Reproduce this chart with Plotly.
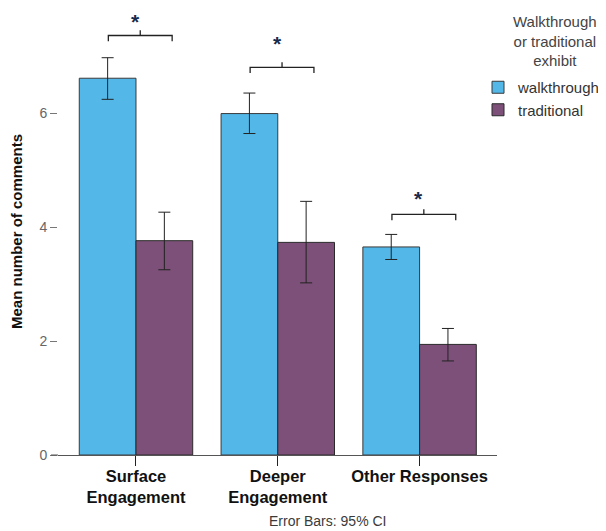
import plotly.graph_objects as go

categories = ["Surface<br>Engagement", "Deeper<br>Engagement", "Other Responses"]
walk_mean = [6.61, 5.99, 3.65]
walk_hi = [6.97, 6.35, 3.87]
walk_lo = [6.24, 5.64, 3.43]
trad_mean = [3.76, 3.73, 1.94]
trad_hi = [4.26, 4.45, 2.22]
trad_lo = [3.25, 3.02, 1.65]
bracket_y = [7.36, 6.80, 4.22]
star_y = [7.72, 7.33, 4.61]

WALK_C = "#53B8E8"
TRAD_C = "#7C5078"
FONT = "Arial, Liberation Sans, sans-serif"

# page has an 8px body margin; figure sized to fit the 606x531 window
W, H = 598, 523
ML, MR, MT, MB = 50, 109, 0, 76
PW, PH = W - ML - MR, H - MT - MB

xs = list(range(len(categories)))

fig = go.Figure()
fig.add_trace(go.Bar(
    x=xs, y=walk_mean, name="walkthrough",
    marker=dict(color=WALK_C, line=dict(color="#3a3a3a", width=1)),
    error_y=dict(type="data", symmetric=False,
                 array=[h - m for h, m in zip(walk_hi, walk_mean)],
                 arrayminus=[m - l for m, l in zip(walk_mean, walk_lo)],
                 color="#222222", thickness=1, width=6),
))
fig.add_trace(go.Bar(
    x=xs, y=trad_mean, name="traditional",
    marker=dict(color=TRAD_C, line=dict(color="#2a2a2a", width=1)),
    error_y=dict(type="data", symmetric=False,
                 array=[h - m for h, m in zip(trad_hi, trad_mean)],
                 arrayminus=[m - l for m, l in zip(trad_mean, trad_lo)],
                 color="#222222", thickness=1, width=6),
))

# significance brackets
for i, (by, sy) in enumerate(zip(bracket_y, star_y)):
    x0, x1, xm = i - 0.195, i + 0.255, i + 0.03
    path = (f"M {x0},{by-0.1} L {x0},{by} L {x1},{by} L {x1},{by-0.1} "
            f"M {xm},{by} L {xm},{by+0.09}")
    fig.add_shape(type="path", path=path, xref="x", yref="y",
                  line=dict(color="#222222", width=1.3))
    fig.add_annotation(x=i - 0.005, y=sy, xref="x", yref="y", text="<b>*</b>",
                       yanchor="top", yshift=7,
                       showarrow=False, font=dict(size=21, color="#1a2a4a", family=FONT))

# baseline extension to the left of the y axis
fig.add_shape(type="line", xref="paper", yref="paper", x0=-7 / PW, x1=0, y0=0, y1=0,
              line=dict(color="#555555", width=1))

fig.add_annotation(x=(319 - ML) / PW, xref="paper", y=-(513 - PH) / PH, yref="paper",
                   yanchor="middle", text="Error Bars: 95% CI", showarrow=False,
                   font=dict(size=14, color="#3a3a3a", family=FONT))

# legend title (centered, multi-line)
fig.add_annotation(x=(547 - ML) / PW, xref="paper", y=1 - 3 / PH, yref="paper",
                   text="Walkthrough<br>or traditional<br>exhibit", showarrow=False,
                   align="center", xanchor="center", yanchor="top",
                   font=dict(size=15, color="#444444", family=FONT))

fig.update_layout(
    width=W, height=H,
    margin=dict(l=ML, r=MR, t=MT, b=MB, autoexpand=False),
    paper_bgcolor="white", plot_bgcolor="white",
    barmode="group", bargap=0.2, bargroupgap=0,
    font=dict(family=FONT, color="#333333"),
    showlegend=True,
    legend=dict(
        x=(470 - ML) / PW, xanchor="left",
        y=1 - 63 / PH, yanchor="top",
        font=dict(size=15, color="#333333"),
        itemwidth=30, tracegroupgap=0,
        bgcolor="rgba(0,0,0,0)",
    ),
)
fig.update_xaxes(
    tickmode="array", tickvals=xs,
    ticktext=[f"<b>{c}</b>".replace("<br>", "</b><br><b>") for c in categories],
    range=[-0.55, 2.546],
    showline=True, linecolor="#555555", linewidth=1,
    ticks="outside", ticklen=10, tickcolor="#222222",
    ticklabelstandoff=-4,
    tickfont=dict(size=16.5, color="#111111", family=FONT),
    showgrid=False, zeroline=False,
)
fig.update_yaxes(
    range=[0, (455 - 8) / 57], tickvals=[0, 2, 4, 6],
    showline=False, showgrid=False, zeroline=False,
    ticks="outside", ticklen=7, tickcolor="#777777",
    tickfont=dict(size=14, color="#666666", family=FONT),
    title=dict(text="<b>Mean number of comments</b>",
               font=dict(size=15, color="#111111", family=FONT), standoff=14),
)

fig.write_html("out.html")
